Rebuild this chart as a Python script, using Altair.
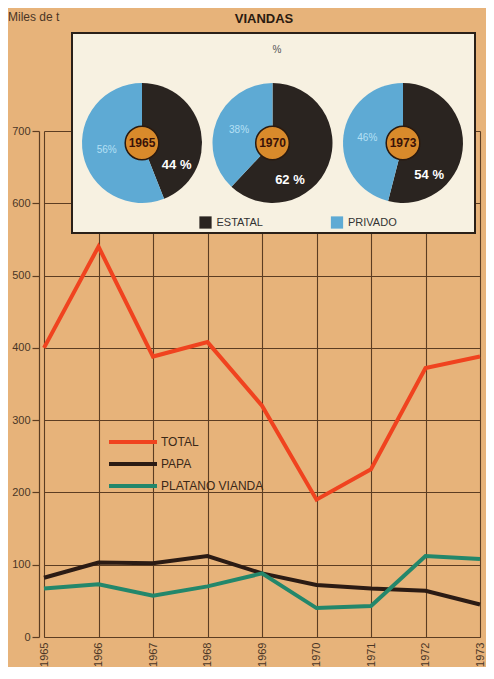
import altair as alt
import pandas as pd

# ---------------- data ----------------
years = [1965, 1966, 1967, 1968, 1969, 1970, 1971, 1972, 1973]
total = [400, 540, 388, 408, 320, 190, 232, 372, 388]
papa = [82, 103, 102, 112, 88, 72, 67, 64, 45]
platano = [67, 73, 57, 70, 88, 40, 43, 112, 108]
series_names = ["TOTAL", "PAPA", "PLATANO VIANDA"]
series_colors = ["#f0431f", "#2b1b14", "#23876b"]

pie_years = [1965, 1970, 1973]
estatal = [44, 62, 54]
privado = [56, 38, 46]
pie_cats = ["ESTATAL", "PRIVADO"]
pie_colors = ["#2a2420", "#5eaad4"]

y_ticks = [0, 100, 200, 300, 400, 500, 600, 700]

# ---------------- tables ----------------
rows = []
for name, vals in zip(series_names, [total, papa, platano]):
    for yr, v in zip(years, vals):
        rows.append({"year": yr, "value": v, "series": name})
df_lines = pd.DataFrame(rows)

prow = []
for yr, e, p in zip(pie_years, estatal, privado):
    prow.append({"year": str(yr), "cat": "ESTATAL", "start": 0, "end": e,
                 "color": pie_colors[0], "label": f"{e} %", "lab": e / 2 + 12})
    prow.append({"year": str(yr), "cat": "PRIVADO", "start": e, "end": 100,
                 "color": pie_colors[1], "label": f"{p}%", "lab": e + p / 2})
df_pie = pd.DataFrame(prow)
df_centers = pd.DataFrame({"year": [str(y) for y in pie_years]})
df_leg = pd.DataFrame({"cat": pie_cats, "color": pie_colors})
one = pd.DataFrame({"a": [0]})

BG = "#e7b37a"
GRID = "#5c3d22"
TXT = "#4a3626"
FONT = "Liberation Sans"

# ---------------- line chart ----------------
lines = alt.Chart(df_lines).mark_line(strokeWidth=4).encode(
    x=alt.X("year:Q",
            scale=alt.Scale(domain=[1965, 1973], nice=False, zero=False),
            axis=alt.Axis(values=years, format="d", labelAngle=270, ticks=False,
                          labelPadding=5, labelFontSize=11, labelColor=TXT,
                          labelFont=FONT, domainColor=GRID, domainWidth=1.2,
                          grid=True, gridColor=GRID, gridWidth=1.1, title=None)),
    y=alt.Y("value:Q",
            scale=alt.Scale(domain=[0, 700], nice=False),
            axis=alt.Axis(values=y_ticks, offset=5, tickSize=7, tickColor=GRID,
                          tickWidth=1.2, domainColor=GRID, domainWidth=1.2,
                          labelPadding=2, labelFontSize=11, labelColor=TXT,
                          labelFont=FONT, grid=True, gridColor=GRID,
                          gridWidth=1.1, title=None)),
    color=alt.Color("series:N",
                    scale=alt.Scale(domain=series_names, range=series_colors),
                    sort=series_names,
                    legend=alt.Legend(orient="none", legendX=82, legendY=304,
                                      title=None, symbolType="M-4.8,0H4.8",
                                      symbolSize=100, symbolStrokeWidth=4,
                                      labelOffset=21, labelFontSize=12,
                                      labelFont=FONT, labelColor="#3a2818",
                                      rowPadding=6, padding=0)),
    order=alt.Order("series:N"),
)

# ---------------- inset ----------------
pie_x = alt.Scale(type="point", range=[98, 359], padding=0)
theta_scale = alt.Scale(domain=[0, 100], range=[0, 6.283185])
PIE_Y = 12

box = alt.Chart(one).mark_rect(fill="#f7f1e1", stroke="#2a2018", strokeWidth=2).encode(
    x=alt.value(28), x2=alt.value(431), y=alt.value(-98), y2=alt.value(102))

pct_title = alt.Chart(one).mark_text(text="%", fontSize=10, color="#555555",
                                     font=FONT).encode(
    x=alt.value(233), y=alt.value(-81))

arcs = alt.Chart(df_pie).mark_arc(radius=60).encode(
    x=alt.X("year:N", scale=pie_x, axis=None),
    y=alt.value(PIE_Y),
    theta=alt.Theta("start:Q", scale=theta_scale),
    theta2=alt.Theta2("end:Q"),
    fill=alt.Fill("color:N", scale=None),
)

lab_priv = alt.Chart(df_pie).transform_filter(alt.datum.cat == "PRIVADO").mark_text(
    fontSize=10, color="#b5e0f4", font=FONT).encode(
    x=alt.X("year:N", scale=pie_x, axis=None),
    y=alt.value(PIE_Y),
    theta=alt.Theta("lab:Q", scale=theta_scale),
    radius=alt.value(36),
    text="label:N",
)

lab_est = alt.Chart(df_pie).transform_filter(alt.datum.cat == "ESTATAL").mark_text(
    fontSize=13, fontWeight="bold", color="#ffffff", font=FONT).encode(
    x=alt.X("year:N", scale=pie_x, axis=None),
    y=alt.value(PIE_Y),
    theta=alt.Theta("lab:Q", scale=theta_scale),
    radius=alt.value(41),
    text="label:N",
)

centers = alt.Chart(df_centers).mark_circle(size=1130, fill="#d98a2b", stroke="#2a1a10",
                                            strokeWidth=1.5, opacity=1).encode(
    x=alt.X("year:N", scale=pie_x, axis=None),
    y=alt.value(PIE_Y),
)

center_txt = alt.Chart(df_centers).mark_text(fontSize=12, fontWeight="bold",
                                             color="#3a1208", font=FONT).encode(
    x=alt.X("year:N", scale=pie_x, axis=None),
    y=alt.value(PIE_Y),
    text="year:N",
)

leg_x = alt.Scale(type="point", range=[161.5, 293], padding=0)
leg_sw = alt.Chart(df_leg).mark_square(size=150, opacity=1).encode(
    x=alt.X("cat:N", scale=leg_x, axis=None),
    y=alt.value(91.5),
    fill=alt.Fill("color:N", scale=None),
)
leg_txt = alt.Chart(df_leg).mark_text(align="left", dx=11, fontSize=11,
                                      color="#333333", font=FONT).encode(
    x=alt.X("cat:N", scale=leg_x, axis=None),
    y=alt.value(91.5),
    text="cat:N",
)

# ---------------- headings ----------------
title_txt = alt.Chart(one).mark_text(text="VIANDAS", fontSize=13, fontWeight="bold",
                                     color="#2a1a10", font=FONT,
                                     baseline="alphabetic").encode(
    x=alt.value(220), y=alt.value(-108))
unit_txt = alt.Chart(one).mark_text(text="Miles de t", fontSize=12, color=TXT,
                                    font=FONT, align="left",
                                    baseline="middle").encode(
    x=alt.value(-36), y=alt.value(-114))

chart = alt.layer(
    lines, box, pct_title, arcs, lab_priv, lab_est, centers, center_txt,
    leg_sw, leg_txt, title_txt, unit_txt,
).resolve_scale(x="independent").properties(
    width=436, height=506,
    padding={"left": 36, "top": 123, "right": 6, "bottom": 30},
    autosize=alt.AutoSizeParams(type="none"),
    background=BG,
).configure_view(stroke="transparent")

chart.save("out.html", embed_options={"renderer": "svg", "actions": False})
